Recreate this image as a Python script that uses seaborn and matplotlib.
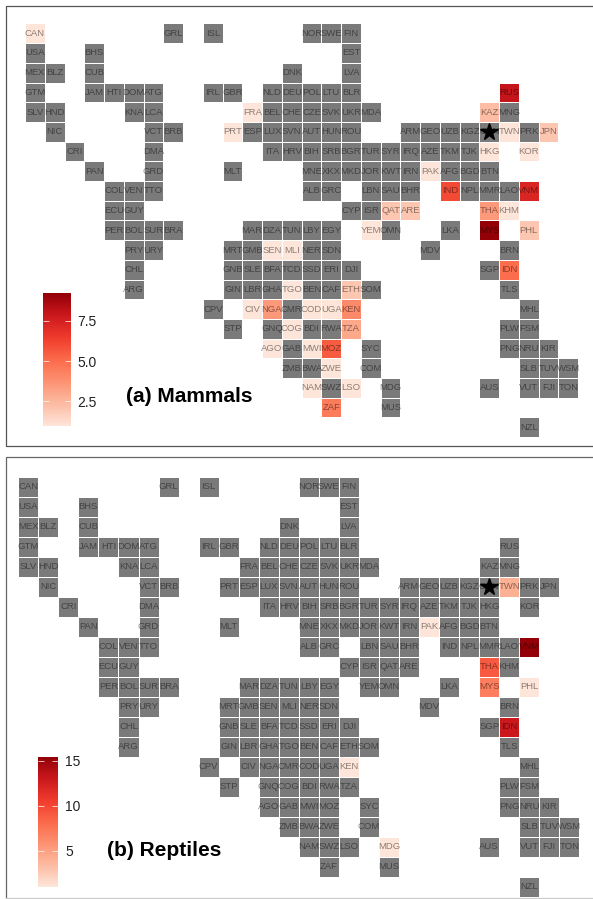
import numpy as np
import pandas as pd
import matplotlib
matplotlib.use("Agg")
import matplotlib.pyplot as plt
from matplotlib.lines import Line2D
import seaborn as sns

# tile map of the countries, one string per row, an empty slot is a gap
grid_rows = [
    "CAN,,,,,,,GRL,,ISL,,,,,NOR,SWE,FIN,,,,,,,,,,,",
    "USA,,,BHS,,,,,,,,,,,,,EST,,,,,,,,,,,",
    "MEX,BLZ,,CUB,,,,,,,,,,DNK,,,LVA,,,,,,,,,,,",
    "GTM,,,JAM,HTI,DOM,ATG,,,IRL,GBR,,NLD,DEU,POL,LTU,BLR,,,,,,,,RUS,,,",
    "SLV,HND,,,,KNA,LCA,,,,,FRA,BEL,CHE,CZE,SVK,UKR,MDA,,,,,,KAZ,MNG,,,",
    ",NIC,,,,,VCT,BRB,,,PRT,ESP,LUX,SVN,AUT,HUN,ROU,,,ARM,GEO,UZB,KGZ,CHN,TWN,PRK,JPN,",
    ",,CRI,,,,DMA,,,,,,ITA,HRV,BIH,SRB,BGR,TUR,SYR,IRQ,AZE,TKM,TJK,HKG,,KOR,,",
    ",,,PAN,,,GRD,,,,MLT,,,,MNE,XKX,MKD,JOR,KWT,IRN,PAK,AFG,BGD,BTN,,,,",
    ",,,,COL,VEN,TTO,,,,,,,,ALB,GRC,,LBN,SAU,BHR,,IND,NPL,MMR,LAO,VNM,,",
    ",,,,ECU,GUY,,,,,,,,,,,CYP,ISR,QAT,ARE,,,,THA,KHM,,,",
    ",,,,PER,BOL,SUR,BRA,,,,MAR,DZA,TUN,LBY,EGY,,YEM,OMN,,,LKA,,MYS,,PHL,,",
    ",,,,,PRY,URY,,,,MRT,GMB,SEN,MLI,NER,SDN,,,,,MDV,,,,BRN,,,",
    ",,,,,CHL,,,,,GNB,SLE,BFA,TCD,SSD,ERI,DJI,,,,,,,SGP,IDN,,,",
    ",,,,,ARG,,,,,GIN,LBR,GHA,TGO,BEN,CAF,ETH,SOM,,,,,,,TLS,,,",
    ",,,,,,,,,CPV,,CIV,NGA,CMR,COD,UGA,KEN,,,,,,,,,MHL,,",
    ",,,,,,,,,,STP,,GNQ,COG,BDI,RWA,TZA,,,,,,,,PLW,FSM,,",
    ",,,,,,,,,,,,AGO,GAB,MWI,MOZ,,SYC,,,,,,,PNG,NRU,KIR,",
    ",,,,,,,,,,,,,ZMB,BWA,ZWE,,COM,,,,,,,,SLB,TUV,WSM",
    ",,,,,,,,,,,,,,NAM,SWZ,LSO,,MDG,,,,,AUS,,VUT,FJI,TON",
    ",,,,,,,,,,,,,,,ZAF,,,MUS,,,,,,,,,",
    ",,,,,,,,,,,,,,,,,,,,,,,,,NZL,,",
]

mammal_codes = ["CAN", "FRA", "PRT", "RUS", "KAZ", "TWN", "JPN", "KOR", "HKG", "PAK",
                "IND", "VNM", "QAT", "ARE", "THA", "KHM", "YEM", "MYS", "PHL", "IDN",
                "SEN", "MLI", "TGO", "CIV", "NGA", "COD", "UGA", "ETH", "KEN", "TZA",
                "COG", "AGO", "MWI", "MOZ", "ZWE", "NAM", "LSO", "ZAF"]
mammal_values = [1, 1, 1, 8, 2.3, 1, 2, 1, 1, 1,
                 6, 7.3, 2, 2, 3.5, 1, 1, 9.2, 2, 5,
                 1, 1, 1, 1, 3.5, 1, 1, 2, 4, 3,
                 1, 1, 1, 5.5, 1, 1, 1, 4.5]

reptile_codes = ["PAK", "TWN", "VNM", "THA", "MYS", "PHL", "IDN", "KEN", "MDG"]
reptile_values = [1, 4, 15.4, 9, 7, 1, 13, 1, 1]

mammal_ticks = [2.5, 5.0, 7.5]
reptile_ticks = [5, 10, 15]

W, H = 593, 899
GREY = "#7a7a7a"
FONT = "Liberation Sans"

plt.rcParams["font.family"] = [FONT, "DejaVu Sans"]

labels = np.array([row.split(",") for row in grid_rows])
mask = labels == ""

cmap = sns.blend_palette(["#fee5d9", "#fcbba1", "#fc9272", "#fb6a4a", "#ef3b2c",
                          "#cb181d", "#930008"], as_cmap=True)
cmap.set_under(GREY)


def px_axes(fig, left, top, right, bottom):
    return fig.add_axes([left / W, 1 - bottom / H, (right - left) / W, (bottom - top) / H])


def draw_panel(fig, codes, values, ticks, tick_fmt, box, cbar_box, title, title_xy):
    found = dict(zip(codes, values))
    df = pd.DataFrame(labels).map(lambda c: found.get(c, 0.0))

    ax = px_axes(fig, *box)
    cax = px_axes(fig, *cbar_box)
    sns.heatmap(df, ax=ax, cbar_ax=cax, mask=mask, cmap=cmap, vmin=1, vmax=max(values),
                annot=labels, fmt="", linewidths=0.6, linecolor="white",
                xticklabels=False, yticklabels=False,
                annot_kws={"color": "black", "alpha": 0.45, "fontsize": 6.8, "family": FONT})
    ax.set_axis_off()

    # star on top of China
    r, c = np.argwhere(labels == "CHN")[0]
    ax.plot(c + 0.5, r + 0.5, marker="*", color="black", markersize=13, linestyle="none")

    cbar = ax.collections[0].colorbar
    cbar.outline.set_visible(False)
    cbar.set_ticks(ticks)
    cbar.set_ticklabels([tick_fmt.format(t) for t in ticks])
    cax.tick_params(axis="y", direction="in", length=4, width=0.5, color="#ffffff",
                    left=True, right=True, labelsize=10, labelcolor="#222222", pad=5)

    fig.text(title_xy[0] / W, 1 - title_xy[1] / H, title, fontsize=15, fontweight="bold",
             family=FONT, ha="left", va="center")


fig = plt.figure(figsize=(W / 100, H / 100), dpi=100, facecolor="white")

draw_panel(fig, mammal_codes, mammal_values, mammal_ticks, "{:.1f}",
           (25.1, 23.4, 578.2, 437.2), (43.3, 293.3, 70.7, 425.7),
           "(a) Mammals", (126, 397))
draw_panel(fig, reptile_codes, reptile_values, reptile_ticks, "{:d}",
           (18.3, 476.7, 579.3, 896.7), (37.7, 757.3, 58, 886.7),
           "(b) Reptiles", (107, 850))

# the two panel frames, open on the right
for xs, ys, col in [([593, 5.5, 5.5, 593], [5.5, 5.5, 446, 446], "#555555"),
                    ([593, 5.5, 5.5], [457, 457, 899], "#666666"),
                    ([5.5, 593], [898, 898], "#cccccc")]:
    fig.add_artist(Line2D([x / W for x in xs], [1 - y / H for y in ys], color=col, linewidth=0.9))

fig.savefig("out.png", dpi=100)
